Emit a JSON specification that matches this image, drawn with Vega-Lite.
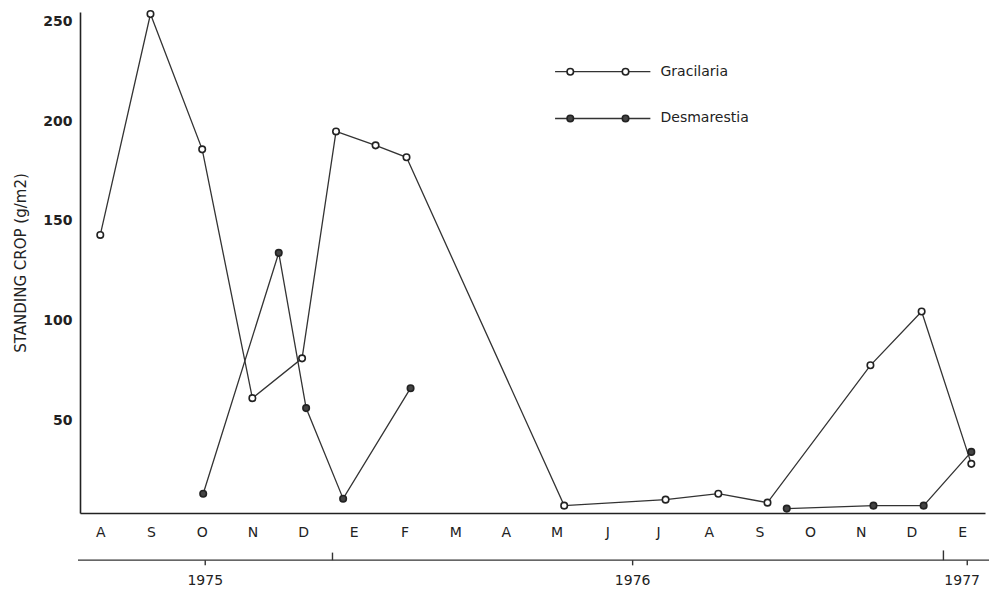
{
  "$schema": "https://vega.github.io/schema/vega-lite/v6.json",
  "autosize": {"type": "none"},
  "padding": {"left": 80, "top": 12, "right": 4, "bottom": 85},
  "width": 905,
  "height": 501,
  "background": "white",
  "config": {
    "view": {"stroke": null},
    "font": "DejaVu Sans",
    "axis": {"grid": false, "ticks": false, "domainColor": "#222", "domainWidth": 1.6, "labelColor": "#222", "titleColor": "#222"}
  },
  "datasets": {
    "series": [
      {"species": "Gracilaria", "seg": "g1", "t": 0, "v": 143},
      {"species": "Gracilaria", "seg": "g1", "t": 0.99, "v": 254},
      {"species": "Gracilaria", "seg": "g1", "t": 2.01, "v": 186},
      {"species": "Gracilaria", "seg": "g1", "t": 3.0, "v": 61},
      {"species": "Gracilaria", "seg": "g1", "t": 3.98, "v": 81},
      {"species": "Gracilaria", "seg": "g1", "t": 4.65, "v": 195},
      {"species": "Gracilaria", "seg": "g1", "t": 5.43, "v": 188},
      {"species": "Gracilaria", "seg": "g1", "t": 6.04, "v": 182},
      {"species": "Gracilaria", "seg": "g1", "t": 9.15, "v": 7},
      {"species": "Gracilaria", "seg": "g1", "t": 11.15, "v": 10},
      {"species": "Gracilaria", "seg": "g1", "t": 12.19, "v": 13},
      {"species": "Gracilaria", "seg": "g1", "t": 13.16, "v": 8.5},
      {"species": "Gracilaria", "seg": "g1", "t": 15.19, "v": 77.5},
      {"species": "Gracilaria", "seg": "g1", "t": 16.2, "v": 104.5},
      {"species": "Gracilaria", "seg": "g1", "t": 17.18, "v": 28},
      {"species": "Desmarestia", "seg": "d1", "t": 2.03, "v": 13},
      {"species": "Desmarestia", "seg": "d1", "t": 3.52, "v": 134},
      {"species": "Desmarestia", "seg": "d1", "t": 4.06, "v": 56},
      {"species": "Desmarestia", "seg": "d1", "t": 4.79, "v": 10.5},
      {"species": "Desmarestia", "seg": "d1", "t": 6.12, "v": 66},
      {"species": "Desmarestia", "seg": "d2", "t": 13.54, "v": 5.5},
      {"species": "Desmarestia", "seg": "d2", "t": 15.25, "v": 7},
      {"species": "Desmarestia", "seg": "d2", "t": 16.24, "v": 7},
      {"species": "Desmarestia", "seg": "d2", "t": 17.18, "v": 34}
    ],
    "legend": [
      {"species": "Gracilaria", "t1": 8.97, "t2": 10.85, "p1": 9.27, "p2": 10.36, "tx": 11.05, "v": 225},
      {"species": "Desmarestia", "t1": 8.97, "t2": 10.85, "p1": 9.27, "p2": 10.36, "tx": 11.05, "v": 201.5}
    ],
    "years": [
      {"year": "1975", "t": 2.07},
      {"year": "1976", "t": 10.5},
      {"year": "1977", "t": 17.0}
    ],
    "bracket": [{"t1": -0.44, "t2": 17.7}],
    "ticks": [
      {"t": 4.58, "y1": -20.4, "y2": -16.6},
      {"t": 16.63, "y1": -20.4, "y2": -15.5},
      {"t": 2.07, "y1": -20.4, "y2": -23},
      {"t": 10.5, "y1": -20.4, "y2": -23},
      {"t": 17.1, "y1": -20.4, "y2": -23}
    ]
  },
  "layer": [
    {
      "data": {"name": "series"},
      "mark": {"type": "line", "color": "#333", "strokeWidth": 1.3},
      "encoding": {
        "x": {"field": "t", "type": "quantitative",
              "scale": {"domain": [-0.4, 17.45], "nice": false, "zero": false},
              "axis": {"values": [0,1,2,3,4,5,6,7,8,9,10,11,12,13,14,15,16,17],
                       "labelExpr": "['A','S','O','N','D','E','F','M','A','M','J','J','A','S','O','N','D','E'][datum.value]",
                       "labelFontSize": 14, "labelPadding": 12, "title": null, "labelFont": "DejaVu Sans"}},
        "y": {"field": "v", "type": "quantitative",
              "scale": {"domain": [3.3, 255], "nice": false, "zero": false},
              "axis": {"values": [50, 100, 150, 200, 250], "labelFontSize": 14, "labelFontWeight": "bold",
                       "labelPadding": 8, "title": "STANDING CROP (g/m2)", "titleFontSize": 15,
                       "titleFontWeight": "normal", "titlePadding": 14}},
        "detail": {"field": "seg"}
      }
    },
    {
      "data": {"name": "series"},
      "mark": {"type": "point", "shape": "circle", "size": 42, "stroke": "#222", "strokeWidth": 1.6, "filled": false, "opacity": 1},
      "encoding": {
        "x": {"field": "t", "type": "quantitative"},
        "y": {"field": "v", "type": "quantitative"},
        "fill": {"field": "species", "type": "nominal", "scale": {"domain": ["Gracilaria", "Desmarestia"], "range": ["white", "#444"]}, "legend": null}
      }
    },
    {
      "data": {"name": "legend"},
      "mark": {"type": "rule", "color": "#333", "strokeWidth": 1.3},
      "encoding": {
        "x": {"field": "t1", "type": "quantitative"},
        "x2": {"field": "t2"},
        "y": {"field": "v", "type": "quantitative"}
      }
    },
    {
      "data": {"name": "legend"},
      "mark": {"type": "point", "shape": "circle", "size": 42, "stroke": "#222", "strokeWidth": 1.6, "opacity": 1},
      "encoding": {
        "x": {"field": "p1", "type": "quantitative"},
        "y": {"field": "v", "type": "quantitative"},
        "fill": {"field": "species", "type": "nominal", "legend": null}
      }
    },
    {
      "data": {"name": "legend"},
      "mark": {"type": "point", "shape": "circle", "size": 42, "stroke": "#222", "strokeWidth": 1.6, "opacity": 1},
      "encoding": {
        "x": {"field": "p2", "type": "quantitative"},
        "y": {"field": "v", "type": "quantitative"},
        "fill": {"field": "species", "type": "nominal", "legend": null}
      }
    },
    {
      "data": {"name": "legend"},
      "mark": {"type": "text", "align": "left", "baseline": "middle", "fontSize": 14, "color": "#222"},
      "encoding": {
        "x": {"field": "tx", "type": "quantitative"},
        "y": {"field": "v", "type": "quantitative"},
        "text": {"field": "species"}
      }
    },
    {
      "data": {"name": "bracket"},
      "mark": {"type": "rule", "color": "#333", "strokeWidth": 1.4},
      "encoding": {
        "x": {"field": "t1", "type": "quantitative"},
        "x2": {"field": "t2"},
        "y": {"datum": -20.4, "type": "quantitative"}
      }
    },
    {
      "data": {"name": "ticks"},
      "mark": {"type": "rule", "color": "#333", "strokeWidth": 1.4},
      "encoding": {
        "x": {"field": "t", "type": "quantitative"},
        "y": {"field": "y1", "type": "quantitative"},
        "y2": {"field": "y2"}
      }
    },
    {
      "data": {"name": "years"},
      "mark": {"type": "text", "align": "center", "baseline": "middle", "fontSize": 14, "color": "#222"},
      "encoding": {
        "x": {"field": "t", "type": "quantitative"},
        "y": {"datum": -31, "type": "quantitative"},
        "text": {"field": "year"}
      }
    }
  ]
}
